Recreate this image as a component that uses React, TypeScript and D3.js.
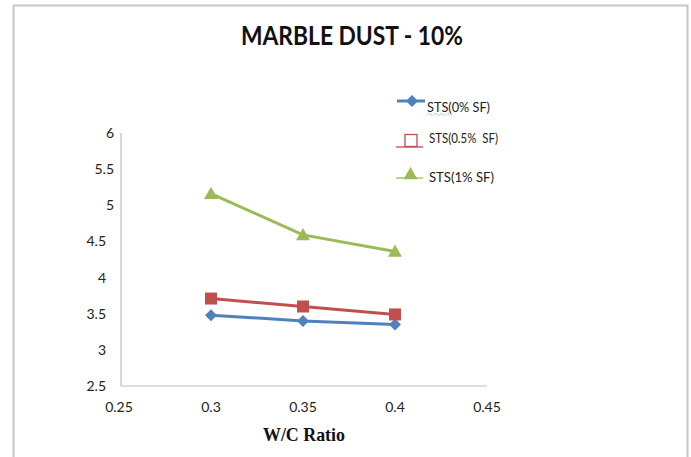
import React from "react";
import * as d3 from "d3";

const xTicks = [0.25, 0.3, 0.35, 0.4, 0.45];
const yTicks = [2.5, 3, 3.5, 4, 4.5, 5, 5.5, 6];
const wc = [0.3, 0.35, 0.4];
const sts0 = [3.48, 3.4, 3.35];
const sts05 = [3.71, 3.6, 3.49];
const sts1 = [5.16, 4.59, 4.36];
const seriesNames = ["STS(0% SF)", "STS(0.5%  SF)", "STS(1% SF)"];
const colors = ["#4F81BD", "#C0504D", "#9BBB59"];

const W = 691;
const H = 457;

export default function App() {
  const x = d3.scaleLinear().domain([0.25, 0.45]).range([119, 487]);
  const y = d3.scaleLinear().domain([2.5, 6]).range([386, 133]);
  const line = d3
    .line<[number, number]>()
    .x((d) => x(d[0]))
    .y((d) => y(d[1]));
  const series = [sts0, sts05, sts1].map((vals) => wc.map((w, i) => [w, vals[i]] as [number, number]));
  const font = "Lato, 'Open Sans', sans-serif";

  const marker = (k: number, cx: number, cy: number, key: string, hollow = false) => {
    const c = colors[k];
    if (k === 0) {
      const s = 6;
      return <path key={key} d={`M${cx},${cy - s}L${cx + s},${cy}L${cx},${cy + s}L${cx - s},${cy}Z`} fill={c} />;
    }
    if (k === 1) {
      const s = 6;
      return (
        <rect key={key} x={cx - s} y={cy - s} width={2 * s} height={2 * s}
          fill={hollow ? "none" : c} stroke={c} strokeWidth={hollow ? 1.3 : 0} />
      );
    }
    const s = 7;
    return <path key={key} d={`M${cx},${cy - s}L${cx + s},${cy + s * 0.75}L${cx - s},${cy + s * 0.75}Z`} fill={c} />;
  };

  return (
    <svg width={W} height={H} style={{ position: "absolute", left: 0, top: 0, background: "#fff" }}>
      <rect x={0} y={0} width={W} height={H} fill="#fff" />
      <path d={`M13.5,${H}V5.5H687.5V${H}`} fill="none" stroke="#C6C6C6" strokeWidth={2} />
      <text x={352} y={45} textAnchor="middle" fontFamily={font} fontWeight="bold" fontSize={26}
        textLength={222} lengthAdjust="spacingAndGlyphs" fill="#111">
        MARBLE DUST - 10%
      </text>
      {/* axes */}
      <line x1={121} y1={133} x2={121} y2={386} stroke="#BEBEBE" strokeWidth={1.2} />
      <line x1={121} y1={386} x2={487} y2={386} stroke="#BEBEBE" strokeWidth={1.2} />
      {yTicks.map((t) => (
        <text key={t} x={t >= 5 ? 114 : 106} y={y(t) + 5} textAnchor="end" fontFamily={font} fontSize={14} fill="#222">
          {t}
        </text>
      ))}
      {xTicks.map((t) => (
        <text key={t} x={x(t)} y={412} textAnchor="middle" fontFamily={font} fontSize={14} fill="#222">
          {t}
        </text>
      ))}
      <text x={304} y={441} textAnchor="middle" fontFamily="'Liberation Serif', serif" fontWeight="bold" fontSize={19}
        textLength={82} lengthAdjust="spacingAndGlyphs" fill="#111">
        W/C Ratio
      </text>
      {series.map((pts, k) => (
        <g key={k}>
          <path d={line(pts) || ""} fill="none" stroke={colors[k]} strokeWidth={3} />
          {pts.map((p, i) => marker(k, x(p[0]), y(p[1]), `m${k}-${i}`))}
        </g>
      ))}
      {/* legend */}
      <g>
        <line x1={397} y1={101} x2={425} y2={101} stroke={colors[0]} strokeWidth={3} />
        {marker(0, 412, 101, "l0")}
        <text x={427} y={112} fontFamily={font} fontSize={14} fill="#222"
          textLength={63} lengthAdjust="spacingAndGlyphs">{seriesNames[0]}</text>
        <path d="M428,114.5 q1.5,-2 3,0 t3,0 t3,0 t3,0 t3,0 t3,0 t3,0 t3,0" fill="none" stroke="#4CAF50" strokeWidth={0.9} strokeDasharray="1,1" />
        <line x1={396} y1={147} x2={423} y2={147} stroke={colors[1]} strokeWidth={1.3} />
        {marker(1, 411, 140.5, "l1", true)}
        <text x={429} y={143} fontFamily={font} fontSize={14} fill="#222" style={{ whiteSpace: "pre" }}
          textLength={69} lengthAdjust="spacingAndGlyphs">{seriesNames[1]}</text>
        <line x1={396} y1={178} x2={423} y2={178} stroke={colors[2]} strokeWidth={1.3} />
        {marker(2, 410.5, 174, "l2")}
        <text x={429} y={182} fontFamily={font} fontSize={14} fill="#222"
          textLength={65} lengthAdjust="spacingAndGlyphs">{seriesNames[2]}</text>
      </g>
    </svg>
  );
}
